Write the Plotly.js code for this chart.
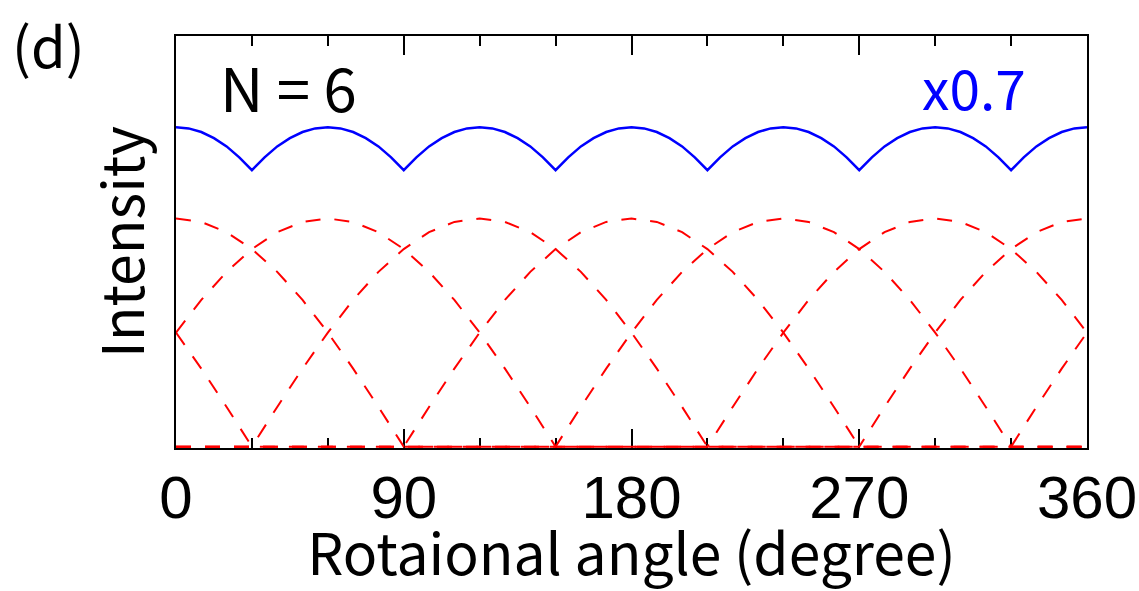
<!DOCTYPE html>
<html>
<head>
<meta charset="utf-8">
<script src="https://cdn.plot.ly/plotly-3.0.1.min.js"></script>
<style>html,body{margin:0;padding:0;background:#fff;}#chart{width:1139px;height:591px;}</style>
</head>
<body>
<div id="chart"></div>
<script>
// Rotational angle (degree), 10-degree samples for the red components
const angle = [0,10,20,30,40,50,60,70,80,90,100,110,120,130,140,150,160,170,180,
  190,200,210,220,230,240,250,260,270,280,290,300,310,320,330,340,350,360];

// Red dashed component curves (N = 6)
const comp0 = [1,.985,.94,.866,.766,.643,.5,.342,.174,0, 0,0,0,0,0,0,0,0,0,0,0,0,0,0,0,0,0,
  0,.174,.342,.5,.643,.766,.866,.94,.985,1];
const comp60 = [.5,.643,.766,.866,.94,.985,1,.985,.94,.866,.766,.643,.5,.342,.174,0,
  0,0,0,0,0,0,0,0,0,0,0,0,0,0,0,0,0,0, .174,.342,.5];
const comp120 = [0,0,0,0,.174,.342,.5,.643,.766,.866,.94,.985,1,.985,.94,.866,.766,.643,.5,.342,.174,0,
  0,0,0,0,0,0,0,0,0,0,0,0,0,0,0];
const comp180 = [0,0,0,0,0,0,0,0,0,0,.174,.342,.5,.643,.766,.866,.94,.985,1,.985,.94,.866,.766,.643,.5,.342,.174,
  0,0,0,0,0,0,0,0,0,0];
const comp240 = [0,0,0,0,0,0,0,0,0,0,0,0,0,0,0,0,.174,.342,.5,.643,.766,.866,.94,.985,1,.985,.94,.866,.766,.643,.5,.342,.174,
  0,0,0,0];
const comp300 = [.5,.342,.174,0, 0,0,0,0,0,0,0,0,0,0,0,0,0,0,0,0,0,0,
  .174,.342,.5,.643,.766,.866,.94,.985,1,.985,.94,.866,.766,.643,.5];

// 5-degree samples for the blue total curve
const angleFine = [0,5,10,15,20,25,30,35,40,45,50,55,60,65,70,75,80,85,90,95,100,105,110,115,120,
  125,130,135,140,145,150,155,160,165,170,175,180,185,190,195,200,205,210,215,220,225,230,235,240,
  245,250,255,260,265,270,275,280,285,290,295,300,305,310,315,320,325,330,335,340,345,350,355,360];

// Blue total (scaled x0.7)
const total = [
  1.4,1.395,1.379,1.352,1.316,1.268,1.212,1.268,1.316,1.352,1.379,1.395,
  1.4,1.395,1.379,1.352,1.316,1.268,1.212,1.268,1.316,1.352,1.379,1.395,
  1.4,1.395,1.379,1.352,1.316,1.268,1.212,1.268,1.316,1.352,1.379,1.395,
  1.4,1.395,1.379,1.352,1.316,1.268,1.212,1.268,1.316,1.352,1.379,1.395,
  1.4,1.395,1.379,1.352,1.316,1.268,1.212,1.268,1.316,1.352,1.379,1.395,
  1.4,1.395,1.379,1.352,1.316,1.268,1.212,1.268,1.316,1.352,1.379,1.395,
  1.4];

const tickVals = [0, 90, 180, 270, 360];
const tickText = ['0', '90', '180', '270', '360'];

const FONT = '"Noto Sans CJK JP", "Noto Sans", sans-serif';
const TICKFONT = '"Liberation Sans", Arial, sans-serif';
const redLine = {color: '#ff0000', width: 2, dash: '15px,14px'};

const comps = [comp0, comp60, comp120, comp180, comp240, comp300];
const traces = comps.map(c => ({
  x: angle, y: c, type: 'scatter', mode: 'lines', line: redLine,
  hoverinfo: 'skip', showlegend: false
}));
traces.push({
  x: angleFine, y: total, type: 'scatter', mode: 'lines',
  line: {color: '#0000ff', width: 2.5}, showlegend: false
});

const layout = {
  width: 1139, height: 591,
  margin: {l: 176, r: 52, t: 36, b: 143},
  paper_bgcolor: '#ffffff', plot_bgcolor: '#ffffff',
  font: {family: FONT, color: '#000000', size: 57},
  showlegend: false,
  xaxis: {
    range: [0, 360], showgrid: false, zeroline: false,
    showline: true, linecolor: '#000', linewidth: 2, mirror: 'ticks',
    tickmode: 'array', tickvals: tickVals, ticktext: tickText,
    ticks: 'inside', ticklen: 19, tickwidth: 2, tickcolor: '#000',
    minor: {dtick: 30, tick0: 0, ticks: 'inside', ticklen: 10, tickwidth: 2, tickcolor: '#000', showgrid: false},
    tickfont: {family: TICKFONT, size: 60},
    ticklabelstandoff: -4,
    layer: 'below traces',
    title: {text: 'Rotaional angle (degree)', font: {family: FONT, size: 57}, standoff: 6},
    automargin: false, fixedrange: true
  },
  yaxis: {
    range: [-0.006, 1.8], showgrid: false, zeroline: false,
    showline: true, linecolor: '#000', linewidth: 2, mirror: true,
    showticklabels: false, ticks: '',
    layer: 'below traces',
    title: {text: 'Intensity', font: {family: FONT, size: 57}, standoff: 11},
    automargin: false, fixedrange: true
  },
  annotations: [
    {text: 'N = 6', xref: 'paper', yref: 'paper', x: 0.046, y: 0.879, xanchor: 'left', yanchor: 'middle',
     showarrow: false, font: {family: FONT, size: 60, color: '#000'}},
    {text: 'x0.7', xref: 'paper', yref: 'paper', x: 0.935, y: 0.879, xanchor: 'right', yanchor: 'middle',
     showarrow: false, font: {family: FONT, size: 55, color: '#0000ff'}},
    {text: '(d)', xref: 'paper', yref: 'paper', x: -0.182, y: 0.983, xanchor: 'left', yanchor: 'middle',
     showarrow: false, font: {family: FONT, size: 56, color: '#000'}}
  ]
};

Plotly.newPlot('chart', traces, layout, {displayModeBar: false, staticPlot: true});
</script>
</body>
</html>
